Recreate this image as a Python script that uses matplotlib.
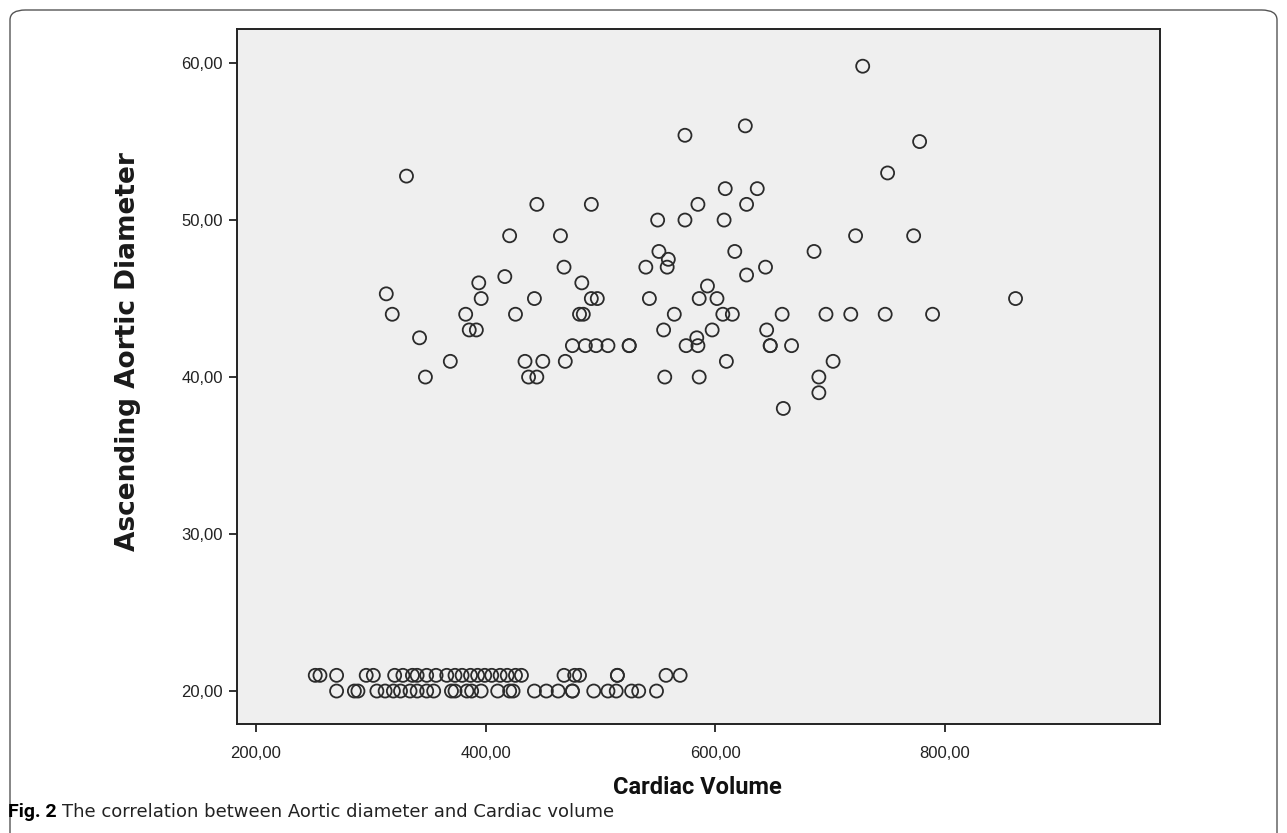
import matplotlib
matplotlib.use("Agg")
import matplotlib.pyplot as plt
from matplotlib.patches import FancyBboxPatch
from matplotlib.ticker import FuncFormatter

# ---- data ----
upper_x = [331.1, 394.1, 396.2, 313.5, 318.7, 382.7, 385.8, 392.0, 342.5, 369.3, 347.6,
           444.7, 492.2, 550.0, 421.0, 465.3, 551.1, 559.3, 558.3, 539.7, 468.4, 416.8,
           483.9, 442.6, 492.2, 497.4, 542.8, 426.1, 481.9, 485.2, 564.5, 555.2, 475.7,
           487.0, 496.3, 506.7, 525.2, 525.2, 434.4, 449.9, 469.5, 437.5, 444.7, 556.2,
           626.4, 573.8, 778.3, 608.9, 636.8, 585.1, 627.5, 573.8, 607.9, 617.2, 686.3,
           644.0, 627.5, 593.4, 586.2, 601.7, 606.8, 615.1, 658.5, 696.7, 597.5, 645.0,
           584.1, 574.8, 585.1, 648.1, 648.1, 666.7, 609.9, 702.9, 586.2, 690.5, 690.5,
           659.5, 728.7, 750.4, 722.5, 773.1, 718.3, 748.3, 789.6, 861.9]
upper_y = [52.8, 46, 45, 45.3, 44, 44, 43, 43, 42.5, 41, 40,
           51, 51, 50, 49, 49, 48, 47.5, 47, 47, 47, 46.4,
           46, 45, 45, 45, 45, 44, 44, 44, 44, 43, 42,
           42, 42, 42, 42, 42, 41, 41, 41, 40, 40, 40,
           56, 55.4, 55, 52, 52, 51, 51, 50, 50, 48, 48,
           47, 46.5, 45.8, 45, 45, 44, 44, 44, 44, 43, 43,
           42.5, 42, 42, 42, 42, 42, 41, 41, 40, 40, 39,
           38, 59.8, 53, 49, 49, 44, 44, 44, 45]

row21_x = [251.6, 255.7, 270.2, 296.0, 302.2, 320.8, 328.0, 336.3, 340.4, 348.7,
           356.9, 366.2, 373.4, 379.6, 386.9, 393.1, 399.3, 405.4, 412.7, 418.9,
           426.1, 431.3, 468.4, 477.7, 481.9, 514.9, 514.9, 557.3, 569.6]
row20_x = [270.2, 285.7, 288.8, 305.3, 312.5, 319.7, 325.9, 334.2, 340.4, 348.7,
           354.8, 370.3, 373.4, 383.8, 387.9, 396.2, 410.6, 421.0, 424.0, 442.6,
           453.0, 463.3, 475.7, 475.7, 494.3, 506.7, 513.9, 527.3, 533.5, 549.0]

x_ticks = [200, 400, 600, 800]
y_ticks = [20, 30, 40, 50, 60]

xs = upper_x + row21_x + row20_x
ys = upper_y + [21] * len(row21_x) + [20] * len(row20_x)

W, H = 1287, 833
fig = plt.figure(figsize=(W / 100, H / 100), dpi=100)
fig.patch.set_facecolor("white")

# outer rounded frame
frame = FancyBboxPatch((10 / W, -20 / H), (W - 20) / W, (H - 10 + 20) / H,
                       boxstyle="round,pad=0,rounding_size=0.012",
                       transform=fig.transFigure, facecolor="none",
                       edgecolor="#555555", linewidth=1.0, clip_on=False)
fig.patches.append(frame)

ax = fig.add_axes([237 / W, 1 - 724 / H, (1160 - 237) / W, (724 - 29) / H])
ax.set_facecolor("#efefef")
ax.scatter(xs, ys, s=88, facecolors="none", edgecolors="#2b2b2b", linewidths=1.3, zorder=3)

ax.set_xlim(183.4, 987.8)
ax.set_ylim(17.9, 62.17)
ax.set_xticks(x_ticks)
ax.set_yticks(y_ticks)
fmt = FuncFormatter(lambda v, p: f"{v:.2f}".replace(".", ","))
ax.xaxis.set_major_formatter(fmt)
ax.yaxis.set_major_formatter(fmt)
ax.tick_params(direction="out", length=6, width=1.3, color="#222222",
               labelsize=12, labelcolor="#222222", pad=4)
for lab in ax.get_xticklabels() + ax.get_yticklabels():
    lab.set_family(["Liberation Sans", "DejaVu Sans"])
ax.tick_params(axis="x", pad=10)
for sp in ax.spines.values():
    sp.set_linewidth(1.4)
    sp.set_color("#222222")

fig.text(697 / W, 1 - 788 / H, "Cardiac Volume", fontsize=17, fontweight="bold",
         family=["Roboto", "DejaVu Sans"], ha="center", va="center", color="#111111")
fig.text(128 / W, 1 - 352 / H, "Ascending Aortic Diameter", fontsize=19,
         fontweight="bold", family="DejaVu Sans", rotation=90,
         ha="center", va="center", color="#1a1a1a")

fig.text(8 / W, 1 - 812 / H, "Fig. 2", fontsize=14, fontweight="bold",
         family=["Roboto", "DejaVu Sans"], va="center", ha="left")
fig.text(62 / W, 1 - 812 / H, "The correlation between Aortic diameter and Cardiac volume",
         fontsize=13, family="DejaVu Sans", va="center", ha="left",
         color="#222222")

fig.savefig("out.png", dpi=100, facecolor="white")
